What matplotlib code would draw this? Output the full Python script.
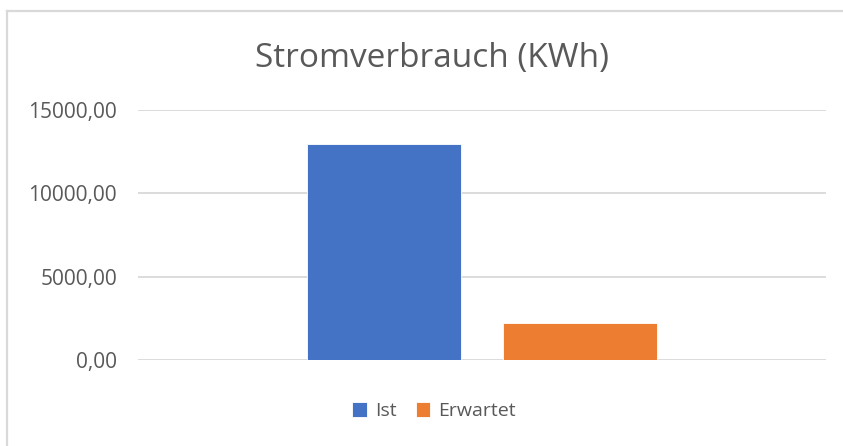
import matplotlib
matplotlib.use("Agg")
from matplotlib import pyplot as plt
from matplotlib.lines import Line2D

# Daten
series = ["Ist", "Erwartet"]
values = [12950, 2240]
colors = ["#4472C4", "#ED7D31"]
y_ticks = [0, 5000, 10000, 15000]
y_labels = ["0,00", "5000,00", "10000,00", "15000,00"]
title = "Stromverbrauch (KWh)"

plt.rcParams["font.family"] = ["Open Sans", "DejaVu Sans"]

fig = plt.figure(figsize=(8.43, 4.46), dpi=100)
ax = fig.add_axes([0.1637, 0.1928, 0.9798 - 0.1637, 0.754 - 0.1928])

bar_w = 0.2233
offsets = [-0.1424, 0.1424]
for name, val, col, off in zip(series, values, colors, offsets):
    ax.bar(off, val, width=bar_w, color=col, edgecolor="white", linewidth=0.6,
           label=name, zorder=3)

ax.set_xlim(-0.5, 0.5)
ax.set_ylim(0, 15000)
ax.set_xticks([])
ax.set_yticks(y_ticks)
ax.set_yticklabels(y_labels)
ax.tick_params(axis="y", length=0, pad=15, labelsize=15, labelcolor="#595959")
ax.grid(axis="y", color="#d9d9d9", linewidth=1.3, zorder=0)
for s in ax.spines.values():
    s.set_visible(False)

fig.text(0.512, 0.868, title, ha="center", va="center", fontsize=24, color="#595959")

leg = fig.legend(loc="center", bbox_to_anchor=(0.515, 0.078), ncol=2, frameon=False,
                 fontsize=14, handlelength=0.75, handleheight=0.75, handletextpad=0.4,
                 columnspacing=1.0)
for t in leg.get_texts():
    t.set_color("#595959")

# Rahmen (nur links und oben sichtbar)
fig.add_artist(Line2D([7 / 843, 7 / 843], [0, 1 - 11 / 446], transform=fig.transFigure,
                      color="#d9d9d9", linewidth=1.6))
fig.add_artist(Line2D([7 / 843, 1], [1 - 11 / 446, 1 - 11 / 446], transform=fig.transFigure,
                      color="#d9d9d9", linewidth=1.6))

fig.savefig("out.png", dpi=100, facecolor="white")
